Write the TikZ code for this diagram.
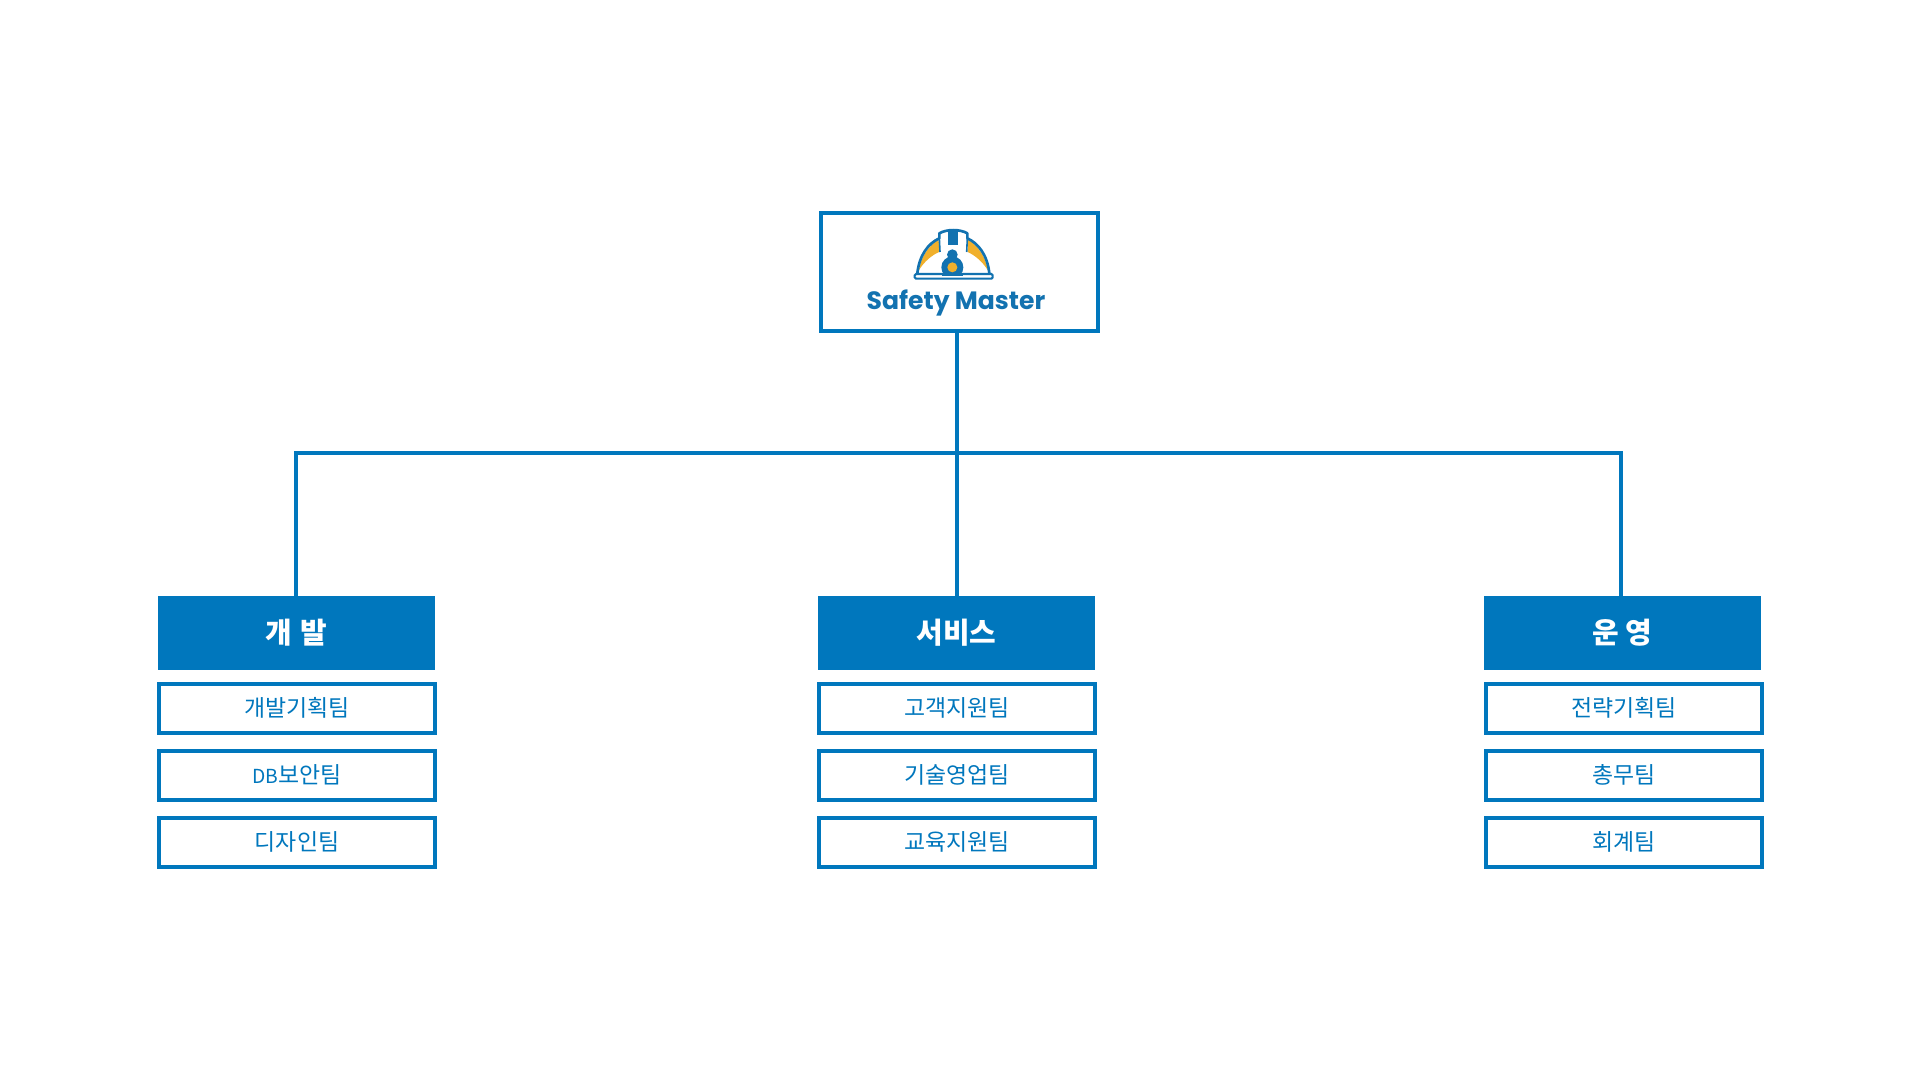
\documentclass[tikz,border=0pt]{standalone}
\usepackage{fontspec}
\setmainfont{Noto Sans CJK KR}
\newfontfamily\logofont{Poppins}
\definecolor{orgblue}{HTML}{0077BD}
\definecolor{logoblue}{HTML}{1272B0}
\definecolor{logoyellow}{HTML}{F0B02C}
\tikzset{
  topbox/.style={draw=orgblue, line width=3pt, fill=white, minimum width=207.75pt, minimum height=88.5pt},
  headbox/.style={fill=orgblue, text=white, font=\fontsize{21.7}{26}\selectfont\bfseries, minimum width=207.75pt, minimum height=55.5pt, inner sep=0pt, text height=20pt, text depth=5pt},
  teambox/.style={draw=orgblue, line width=3pt, fill=white, text=orgblue, font=\fontsize{17.2}{20}\selectfont, minimum width=207pt, minimum height=36.75pt, inner sep=0pt, text height=14pt, text depth=2.5pt},
  linkline/.style={draw=orgblue, line width=3pt},
}
\begin{document}
\begin{tikzpicture}[x=0.75pt,y=0.75pt,yscale=-1,xscale=1]
\useasboundingbox (0,0) rectangle (1920,1080);

% top box
\node[topbox] (top) at (959.5,272) {};

% department heads
\node[headbox] (dev) at (296.5,633) {개\hspace{0.3em}발};
\node[headbox] (service) at (956.5,633) {서비스};
\node[headbox] (oper) at (1622.5,633) {운 영};

% teams
\node[teambox] (dev1) at (297,708.5) {개발기획팀};
\node[teambox] (dev2) at (297,775.5) {{\fontsize{14.5}{20}\selectfont DB}보안팀};
\node[teambox] (dev3) at (297,842.5) {디자인팀};

\node[teambox] (service1) at (957,708.5) {고객지원팀};
\node[teambox] (service2) at (957,775.5) {기술영업팀};
\node[teambox] (service3) at (957,842.5) {교육지원팀};

\node[teambox] (oper1) at (1624,708.5) {전략기획팀};
\node[teambox] (oper2) at (1624,775.5) {총무팀};
\node[teambox] (oper3) at (1624,842.5) {회계팀};

% links
\coordinate (bus) at (957,453);
\coordinate (devlink) at (295.5,596);
\coordinate (operlink) at (1621,596);
\draw[linkline] (service.north |- top.south) -- (service.north);
\draw[linkline] (devlink) -- (devlink |- bus) -- (operlink |- bus) -- (operlink);

% logo
\begin{scope}[shift={(900,220)},x=0.25pt,y=0.25pt]
\fill[white] (52,160) .. controls (58,105) and (85,70) .. (118,55) -- (118,40) .. controls (140,27) and (180,27) .. (202,40) -- (202,55) .. controls (235,70) and (262,105) .. (268,160) -- cycle;
\fill[logoyellow] (56,152) .. controls (64,108) and (86,78) .. (116,58) -- (117,96) .. controls (95,106) and (72,125) .. (56,152) -- cycle;
\fill[logoyellow] (264,152) .. controls (256,108) and (234,78) .. (204,58) -- (203,96) .. controls (225,106) and (248,125) .. (264,152) -- cycle;
\draw[logoblue, line width=2pt, line join=round] (52,160) .. controls (58,105) and (85,70) .. (118,55) -- (118,40) .. controls (140,27) and (180,27) .. (202,40) -- (202,55) .. controls (235,70) and (262,105) .. (268,160);
\draw[logoblue, line width=1.2pt] (118,55) -- (120,96);
\draw[logoblue, line width=1.2pt] (202,55) -- (200,96);
\fill[logoblue] (145,30) rectangle (175,76);
\fill[logoblue] (157,104) circle (16);
\fill[logoblue] (157,142) circle (33);
\fill[logoyellow] (157,142) circle (15);
\draw[logoblue, line width=1.6pt, fill=white, rounded corners=1pt] (44,162) rectangle (278,176);
\fill[logoblue] (126,160) rectangle (188,167);
\end{scope}
\node[font=\logofont\fontsize{18.8}{24}\selectfont\bfseries, text=logoblue, inner sep=0pt, anchor=base] (logotext) at (956,309.5) {Safety Master};

\end{tikzpicture}
\end{document}
